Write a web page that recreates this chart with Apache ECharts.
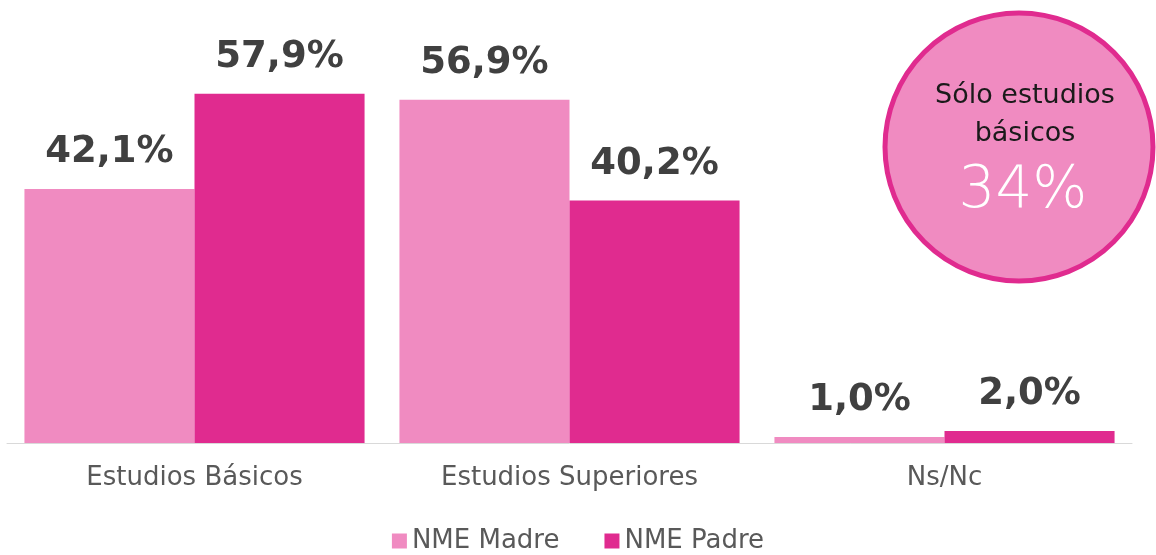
<!DOCTYPE html>
<html>
<head>
<meta charset="utf-8">
<script src="https://cdn.jsdelivr.net/npm/echarts@6/dist/echarts.min.js"></script>
<style>
  html, body { margin: 0; padding: 0; background: #fff; }
  #chart { width: 1156px; height: 555px; }
</style>
</head>
<body>
<div id="chart"></div>
<script>
// datos
var categorias = ['Estudios Básicos', 'Estudios Superiores', 'Ns/Nc'];
var madre = [42.1, 56.9, 1.0];
var padre = [57.9, 40.2, 2.0];
var nombres = ['NME Madre', 'NME Padre'];
var circuloTexto = ['Sólo estudios', 'básicos'];
var circuloValor = '34%';

var rosaClaro = '#F08BC1';
var rosaFuerte = '#E02B8F';

var chart = echarts.init(document.getElementById('chart'));

// etiqueta con coma decimal
function fmt(p) {
    return p.value.toFixed(1).replace('.', ',') + '%';
}

var etiqueta = {
    show: true,
    position: 'top',
    distance: 18,
    formatter: fmt,
    color: '#404040',
    fontSize: 37,
    fontWeight: 'bold',
    fontFamily: 'DejaVu Sans'
};

var option = {
    animation: false,
    grid: {
        left: 7,
        right: 24,
        top: 81,
        bottom: 112
    },
    legend: {
        data: nombres,
        left: 'center',
        top: 523,
        icon: 'rect',
        itemWidth: 15,
        itemHeight: 15,
        itemGap: 45,
        textStyle: {
            color: '#595959',
            fontSize: 26,
            fontFamily: 'DejaVu Sans'
        }
    },
    xAxis: {
        type: 'category',
        data: categorias,
        axisLine: { lineStyle: { color: '#D9D9D9', width: 1 } },
        axisTick: { show: false },
        axisLabel: {
            color: '#595959',
            fontSize: 26,
            margin: 22,
            fontFamily: 'DejaVu Sans'
        }
    },
    yAxis: {
        type: 'value',
        min: 0,
        max: 60,
        show: false,
        splitLine: { show: false }
    },
    series: [{
        name: nombres[0],
        type: 'bar',
        data: madre,
        barGap: '0%',
        barCategoryGap: '9.3%',
        itemStyle: { color: rosaClaro },
        label: etiqueta
    }, {
        name: nombres[1],
        type: 'bar',
        data: padre,
        barGap: '0%',
        barCategoryGap: '9.3%',
        itemStyle: { color: rosaFuerte },
        label: etiqueta
    }],
    // círculo de la esquina
    graphic: [{
        type: 'circle',
        shape: { cx: 1019, cy: 147, r: 134 },
        style: { fill: rosaClaro, stroke: rosaFuerte, lineWidth: 5 }
    }, {
        type: 'text',
        x: 1025,
        y: 96,
        style: {
            text: circuloTexto[0],
            fill: '#1a1a1a',
            fontSize: 27,
            fontFamily: 'DejaVu Sans',
            align: 'center',
            verticalAlign: 'middle'
        }
    }, {
        type: 'text',
        x: 1025,
        y: 134,
        style: {
            text: circuloTexto[1],
            fill: '#1a1a1a',
            fontSize: 27,
            fontFamily: 'DejaVu Sans',
            align: 'center',
            verticalAlign: 'middle'
        }
    }, {
        type: 'text',
        x: 1023,
        y: 192,
        style: {
            text: circuloValor,
            fill: '#ffffff',
            fontSize: 58,
            fontWeight: 200,
            fontFamily: 'DejaVu Sans',
            align: 'center',
            verticalAlign: 'middle'
        }
    }]
};

chart.setOption(option);
</script>
</body>
</html>
